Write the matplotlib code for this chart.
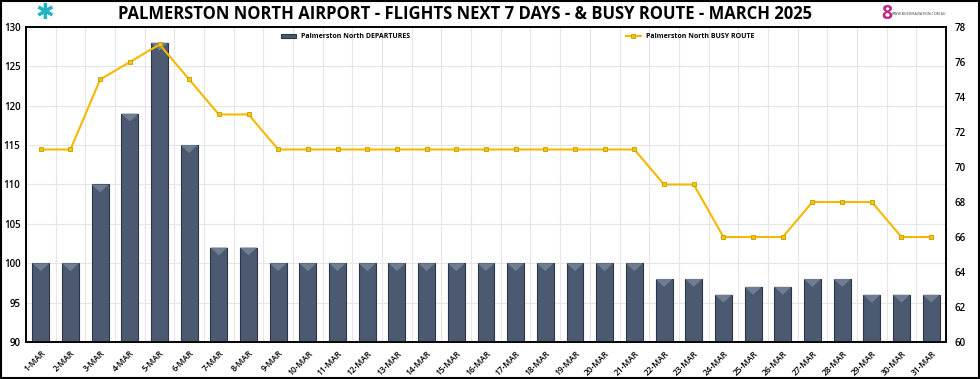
import numpy as np
import matplotlib.pyplot as plt
from matplotlib.patches import Rectangle, Polygon

days = [f"{d}-MAR" for d in range(1, 32)]
departures = [100, 100, 110, 119, 128, 115, 102, 102, 100, 100, 100, 100, 100, 100, 100, 100,
              100, 100, 100, 100, 100, 98, 98, 96, 97, 97, 98, 98, 96, 96, 96]
busy_route = [71, 71, 75, 76, 77, 75, 73, 73, 71, 71, 71, 71, 71, 71, 71, 71,
              71, 71, 71, 71, 71, 69, 69, 66, 66, 66, 68, 68, 68, 66, 66]

title = "PALMERSTON NORTH AIRPORT - FLIGHTS NEXT 7 DAYS - & BUSY ROUTE - MARCH 2025"

plt.rcParams['font.family'] = ['Open Sans', 'DejaVu Sans']

fig = plt.figure(figsize=(9.8, 3.79), dpi=100)
ax = fig.add_axes([0.0265, 0.0976, 0.9388, 0.8312])
ax2 = ax.twinx()

x = np.arange(len(days))
bar_color = '#4b5a70'
w = 0.57
ax.bar(x, np.array(departures) - 90, bottom=90, width=w, color=bar_color,
       edgecolor='#2c3646', linewidth=0.8, zorder=3, label='Palmerston North DEPARTURES')
# bevel shading on the bar tops
for xi, v in zip(x, departures):
    ax.add_patch(Polygon([(xi - w / 2, v), (xi + w / 2, v), (xi, v - 1.0)],
                         closed=True, color='#6f7d92', zorder=4, lw=0))

ax2.plot(x, busy_route, color='#f5b800', lw=1.5, marker='s', markersize=3,
         markerfacecolor='#f2c800', markeredgecolor='#c89a00', markeredgewidth=0.6,
         zorder=5, label='Palmerston North BUSY ROUTE')

ax.set_xlim(-0.5, len(days) - 0.5)
ax.set_ylim(90, 130)
ax.set_yticks(range(90, 131, 5))
ax2.set_ylim(60, 78)
ax2.set_yticks(range(60, 79, 2))

ax.set_xticks(x)
ax.set_xticklabels(days, rotation=45, ha='right', rotation_mode='anchor',
                   fontsize=6, fontweight='semibold')
ax.set_xticks(np.arange(-0.5, len(days), 1), minor=True)
ax.tick_params(axis='x', which='both', length=0, pad=5)
ax.tick_params(axis='y', length=0, labelsize=7, pad=4)
ax2.tick_params(axis='y', length=0, labelsize=7, pad=6)
for lab in ax.get_yticklabels() + ax2.get_yticklabels():
    lab.set_fontweight('semibold')

ax.grid(axis='y', color='#e6e6e6', lw=0.8, zorder=0)
ax.grid(axis='x', which='minor', color='#e6e6e6', lw=0.8, zorder=0)
ax.set_axisbelow(True)

for a in (ax, ax2):
    for s in a.spines.values():
        s.set_color('black')
        s.set_linewidth(1.2)

ax.legend(loc='upper left', bbox_to_anchor=(0.27, 1.0), frameon=False,
          handlelength=2.2, handleheight=0.6, prop={'weight': 'bold', 'size': 5})
ax2.legend(loc='upper left', bbox_to_anchor=(0.645, 1.0), frameon=False,
           handlelength=2.2, prop={'weight': 'bold', 'size': 5})

fig.text(0.474, 0.962, title, ha='center', va='center', fontsize=12, fontweight='bold')
# logos (approximate)
fig.text(0.046, 0.965, '✱', ha='center', va='center', fontsize=16, color='#21b5c4',
         family=['DejaVu Sans'])
fig.text(0.905, 0.962, '8', ha='center', va='center', fontsize=14, color='#c0268a',
         fontweight='bold')
fig.text(0.938, 0.962, 'WWW.BUSSERAVIATION.COM.AU', ha='center', va='center',
         fontsize=2.5, color='#333333')

fig.add_artist(Rectangle((0.001, 0.002), 0.998, 0.996, transform=fig.transFigure,
                         fill=False, edgecolor='black', lw=1.5))

fig.savefig('out.png', dpi=100)
